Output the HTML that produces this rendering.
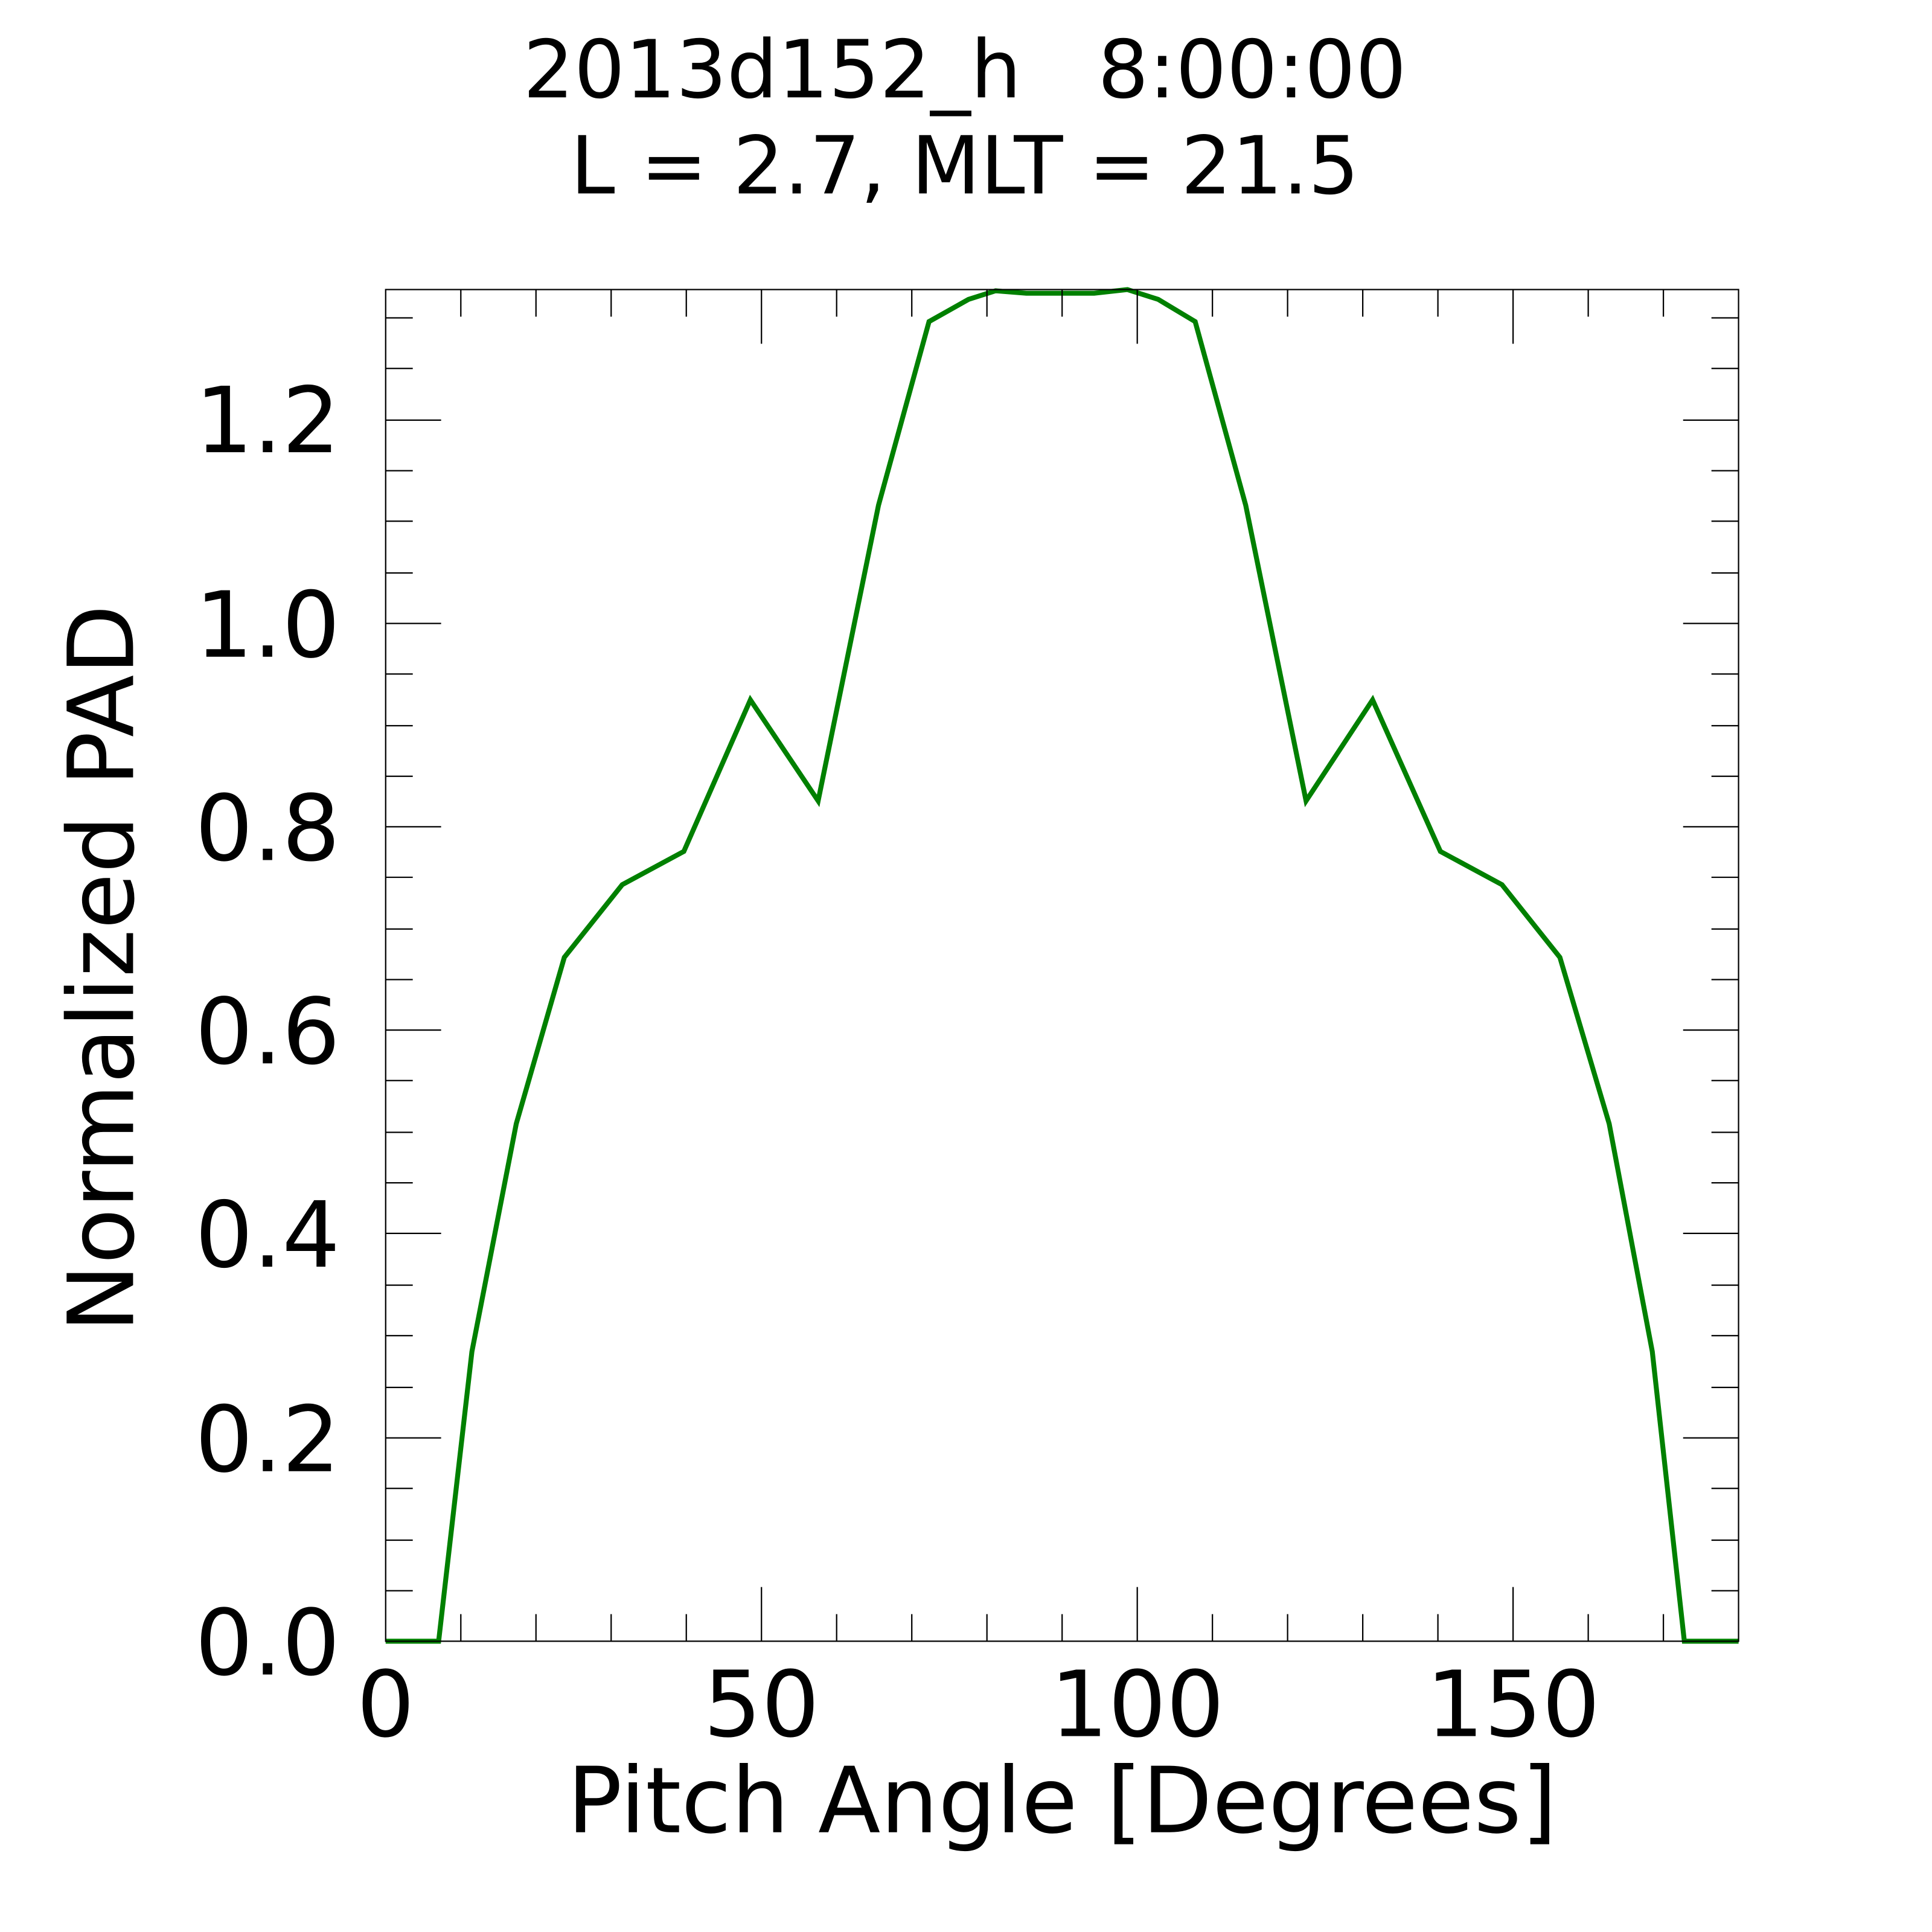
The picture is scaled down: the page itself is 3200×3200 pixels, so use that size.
<!DOCTYPE html>
<html><head><style>html,body{margin:0;padding:0;background:#fff}svg{display:block}</style></head>
<body>
<svg width="3200" height="3200" viewBox="0 0 1568 1568" xmlns="http://www.w3.org/2000/svg" font-family="DejaVu Sans, Liberation Sans, sans-serif">
<rect width="1568" height="1568" fill="#fff"/>
<g fill="#000" text-anchor="middle">
<text x="783" y="79" font-size="65" xml:space="preserve" style="white-space:pre">2013d152_h   8:00:00</text>
<text x="783" y="157" font-size="65">L = 2.7, MLT = 21.5</text>
<text x="862" y="1487" font-size="74">Pitch Angle [Degrees]</text>
<text transform="translate(108,786) rotate(-90)" font-size="74">Normalized PAD</text>
</g>
<g fill="#000" font-size="74" text-anchor="end">
<text x="276" y="1359">0.0</text>
<text x="276" y="1194">0.2</text>
<text x="276" y="1028">0.4</text>
<text x="276" y="863">0.6</text>
<text x="276" y="698">0.8</text>
<text x="276" y="533">1.0</text>
<text x="276" y="367">1.2</text>
</g>
<g fill="#000" font-size="74" text-anchor="middle">
<text x="313" y="1409">0</text>
<text x="618" y="1409">50</text>
<text x="923" y="1409">100</text>
<text x="1228" y="1409">150</text>
</g>
<polyline fill="none" stroke="#008000" stroke-width="4" stroke-linejoin="miter" points="313,1332 356,1332 383,1097 419,912 458,777 505,718 555,691 609,568 664,650 713,410 754,261 786,243 808,236 833,238 888,238 915,235 940,243 970,261 1011,410 1060,650 1114,568 1169,691 1219,718 1266,777 1306,912 1341,1097 1367,1332 1411,1332"/>
<rect x="313" y="235" width="1098" height="1097" fill="none" stroke="#000" stroke-width="1.1"/>
<g stroke="#000" stroke-width="1.1">
<path d="M374,1332v-22M435,1332v-22M496,1332v-22M557,1332v-22M679,1332v-22M740,1332v-22M801,1332v-22M862,1332v-22M984,1332v-22M1045,1332v-22M1106,1332v-22M1167,1332v-22M1289,1332v-22M1350,1332v-22"/>
<path d="M618,1332v-44M923,1332v-44M1228,1332v-44"/>
<path d="M374,235v22M435,235v22M496,235v22M557,235v22M679,235v22M740,235v22M801,235v22M862,235v22M984,235v22M1045,235v22M1106,235v22M1167,235v22M1289,235v22M1350,235v22"/>
<path d="M618,235v44M923,235v44M1228,235v44"/>
<path d="M313,1167h45M313,1001h45M313,836h45M313,671h45M313,506h45M313,341h45"/>
<path d="M1411,1167h-45M1411,1001h-45M1411,836h-45M1411,671h-45M1411,506h-45M1411,341h-45"/>
<path d="M313,1291h22M313,1250h22M313,1208h22M313,1126h22M313,1084h22M313,1043h22M313,960h22M313,919h22M313,877h22M313,795h22M313,754h22M313,712h22M313,630h22M313,589h22M313,547h22M313,465h22M313,423h22M313,382h22M313,299h22M313,258h22"/>
<path d="M1411,1291h-22M1411,1250h-22M1411,1208h-22M1411,1126h-22M1411,1084h-22M1411,1043h-22M1411,960h-22M1411,919h-22M1411,877h-22M1411,795h-22M1411,754h-22M1411,712h-22M1411,630h-22M1411,589h-22M1411,547h-22M1411,465h-22M1411,423h-22M1411,382h-22M1411,299h-22M1411,258h-22"/>
</g>
</svg>
</body></html>
